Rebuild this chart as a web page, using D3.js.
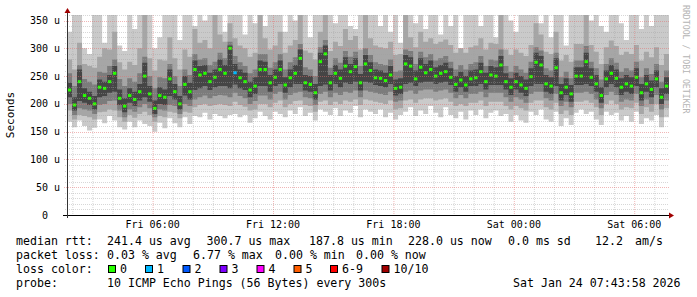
<!DOCTYPE html>
<html>
<head>
<meta charset="utf-8">
<script src="https://cdn.jsdelivr.net/npm/d3@7"></script>
<style>
body { margin: 0; background: #fff; }
text { font-family: "DejaVu Sans Mono", monospace; white-space: pre; }
</style>
</head>
<body>
<div id="chart"></div>
<script>
// 30 hour window, one sample every 15 minutes
const startTime = Date.UTC(2026, 0, 23, 1, 43, 58);
const endTime = Date.UTC(2026, 0, 24, 7, 43, 58);
const stepMinutes = 15;

// median rtt (us)
const median = [
  225,198,240,215,210,200,230,228,240,255,210,196,215,208,222,250,218,192,215,212,245,
  222,200,235,222,262,252,255,240,248,262,255,300,256,247,240,225,232,262,262,238,
  248,262,234,247,255,282,238,235,220,276,290,238,255,246,268,258,267,238,272,260,
  247,246,242,252,228,230,272,268,245,266,256,262,250,255,258,248,235,243,234,245,
  247,258,240,252,250,270,240,230,240,234,228,249,275,270,236,232,265,220,230,218,
  250,250,276,248,236,215,245,255,246,230,236,232,248,220,236,226,245,212,232
];
// lost pings per sample (out of 10)
const loss = [
  0,0,0,0,0,0,0,0,0,0,0,0,0,0,0,0,0,0,0,0,0,
  0,0,0,0,0,0,0,0,0,0,0,0,1,0,0,0,0,0,0,0,
  0,0,0,0,0,0,0,0,0,0,0,0,0,0,0,0,0,0,0,0,
  0,0,0,0,0,0,0,0,0,0,0,0,0,0,0,0,0,0,0,0,
  0,0,0,0,0,0,0,0,0,0,0,0,0,0,0,0,0,0,0,0,
  0,0,0,0,0,0,0,0,0,0,0,0,0,0,0,0,0,0,0
];
// smoke: sorted ping times, lowest (low1) to highest (high1)
const low1 = [
  168,158,170,160,152,157,172,165,178,170,158,154,168,158,170,164,160,150,166,156,174,
  165,158,176,164,178,176,184,172,182,178,174,180,182,176,180,166,174,186,178,172,
  186,182,176,188,182,194,178,184,170,190,186,180,192,178,188,184,196,176,190,186,
  182,190,176,184,172,180,186,194,178,188,182,196,184,176,194,180,174,186,172,188,
  180,190,174,184,188,178,182,168,180,170,166,186,180,190,172,168,186,160,174,162,
  184,190,182,186,172,162,186,180,184,170,178,168,186,164,174,170,180,158,176
];
const low2 = [
  188,172,180,178,176,172,185,186,190,188,176,168,180,175,182,186,180,168,178,176,186,
  184,174,186,184,194,198,200,196,198,200,198,196,204,198,195,188,190,200,200,194,
  202,206,194,200,205,206,198,196,186,204,206,198,204,200,206,204,208,198,208,206,
  204,202,200,206,190,192,206,208,202,208,210,210,206,208,210,204,196,200,196,202,
  202,206,196,204,204,204,196,190,196,192,188,202,206,206,194,190,202,182,188,180,
  204,204,206,202,194,180,200,206,200,190,194,192,202,182,194,186,200,176,192
];
const low3 = [
  200,180,192,190,188,182,198,200,205,206,188,176,190,186,194,200,192,176,190,188,198,
  196,182,200,196,208,212,215,210,214,216,215,212,220,214,210,200,205,215,215,208,
  218,222,208,216,220,222,212,210,198,218,222,212,220,216,222,220,224,212,224,222,
  220,218,216,222,204,206,222,224,218,224,226,226,222,224,226,220,210,216,210,218,
  218,222,212,220,220,220,212,204,212,208,202,218,222,222,210,206,218,196,204,194,
  220,220,222,218,208,192,216,222,216,204,208,206,218,196,208,200,216,190,206
];
const low4 = [
  212,188,205,202,198,190,212,214,220,222,198,185,202,196,206,212,204,182,200,198,214,
  208,190,215,208,225,228,232,225,230,232,232,228,235,228,225,212,218,232,232,222,
  232,236,220,230,236,236,224,222,208,232,235,224,236,230,238,236,240,224,240,238,
  234,232,230,236,215,218,236,238,232,238,240,240,236,238,240,234,222,230,222,232,
  232,236,226,234,234,234,226,216,226,220,214,232,236,236,222,218,232,206,216,204,
  234,234,236,232,222,202,230,236,230,216,222,218,232,206,222,212,230,200,218
];
const high4 = [
  238,212,262,228,222,214,244,240,252,268,226,210,228,222,236,274,232,206,230,226,262,
  236,214,250,238,278,268,270,256,262,280,270,305,272,262,256,240,248,278,276,252,
  262,278,248,262,270,298,252,250,236,292,305,252,270,262,284,272,282,254,288,275,
  262,260,256,268,244,246,288,284,260,282,272,278,266,270,274,264,250,258,250,260,
  262,274,256,268,266,286,255,246,256,250,244,264,292,286,252,248,282,236,246,234,
  266,266,292,264,252,230,260,270,262,246,252,248,264,236,252,242,260,228,248
];
const high3 = [
  255,232,270,245,240,235,258,256,268,280,245,232,246,240,255,285,250,228,248,246,272,
  250,232,262,252,290,280,282,270,276,292,282,312,286,275,268,255,262,290,290,265,
  275,290,262,275,284,308,266,262,250,302,315,265,282,274,295,285,294,268,300,288,
  275,272,270,280,258,260,298,295,272,294,284,290,278,282,286,276,262,270,262,272,
  275,286,268,280,278,298,268,258,268,262,256,276,302,296,264,260,292,248,258,246,
  278,278,304,276,264,244,272,282,274,258,264,260,276,248,264,254,272,240,260
];
const high2 = [
  280,262,310,272,268,265,285,300,298,330,275,262,276,270,300,380,282,260,280,278,320,
  282,262,298,285,335,310,315,300,380,325,312,345,318,305,300,285,292,380,318,298,
  305,330,292,305,315,380,296,292,280,330,360,295,312,304,335,315,322,298,380,318,
  305,302,300,312,288,290,380,320,302,330,312,318,308,312,316,306,292,300,292,302,
  305,318,298,310,308,380,298,288,298,292,286,306,345,325,294,290,330,278,288,276,
  308,308,380,306,294,272,302,314,304,288,294,290,306,278,294,284,302,270,290
];
const high1 = [
  330,380,380,300,290,380,380,310,380,380,305,295,380,335,380,380,380,300,320,380,380,
  380,315,380,380,340,380,350,380,380,380,330,380,380,380,325,380,345,380,340,380,
  380,380,330,380,350,380,380,320,380,380,380,380,345,380,380,340,335,380,380,380,
  380,340,380,330,380,310,380,380,345,380,335,380,380,325,380,340,380,300,380,380,
  380,340,380,380,320,380,380,350,330,380,380,380,380,345,380,320,380,380,305,380,
  380,380,380,350,380,340,330,380,380,345,315,380,380,335,380,340,380,380,380
];

const yTickValues = [0, 50, 100, 150, 200, 250, 300, 350];
const yTickLabels = ["0  ", "50 u", "100 u", "150 u", "200 u", "250 u", "300 u", "350 u"];

const lossLabels = ["0", "1", "2", "3", "4", "5", "6-9", "10/10"];
const lossColors = ["#26ff00", "#00b8ff", "#0059ff", "#7e00ff", "#ff00fe", "#ff5e00", "#ff0000", "#a10000"];

const rttLegend = ["median rtt:", "241.4 us avg", "300.7 us max", "187.8 us min", "228.0 us now", "0.0 ms sd", "12.2", "am/s"];
const lossLegend = ["packet loss:", "0.03 % avg", "6.77 % max", "0.00 % min", "0.00 % now"];
const probeLegend = ["probe:", "10 ICMP Echo Pings (56 Bytes) every 300s", "Sat Jan 24 07:43:58 2026"];

// ---- layout ----
const width = 697, height = 297;
const plot = { left: 67, right: 669, top: 15, bottom: 215 };
const smokeFills = ["#cacaca", "#a6a6a6", "#7c7c7c", "#454545"];
const legendFont = 11.6, axisFont = 10;

const svg = d3.select('#chart').append('svg')
  .attr('width', width)
  .attr('height', height);
svg.append('rect').attr('width', width).attr('height', height).attr('fill', '#fff');

const x = d3.scaleUtc().domain([startTime, endTime]).range([plot.left, plot.right]);
const y = d3.scaleLinear().domain([0, 360]).range([plot.bottom, plot.top]);

const rows = median.map((m, i) => ({
  t: startTime + i * stepMinutes * 60000,
  med: m, loss: loss[i],
  l1: low1[i], l2: low2[i], l3: low3[i], l4: low4[i],
  h4: high4[i], h3: high3[i], h2: high2[i], h1: high1[i]
}));
const stepRows = rows.concat([Object.assign({}, rows[rows.length - 1], { t: endTime })]);

svg.append('clipPath').attr('id', 'plotclip')
  .append('rect')
  .attr('x', plot.left).attr('y', plot.top)
  .attr('width', plot.right - plot.left).attr('height', plot.bottom - plot.top);

const g = svg.append('g').attr('clip-path', 'url(#plotclip)');

const bands = [['l1', 'h1'], ['l2', 'h2'], ['l3', 'h3'], ['l4', 'h4']];
bands.forEach(([lo, hi], k) => {
  const area = d3.area()
    .curve(d3.curveStepAfter)
    .x(d => x(d.t))
    .y0(d => y(d[lo]))
    .y1(d => y(d[hi]));
  g.append('path').datum(stepRows).attr('d', area).attr('fill', smokeFills[k]);
});

// median markers coloured by loss
const colW = x(startTime + stepMinutes * 60000) - x(startTime);
g.append('g').selectAll('rect').data(rows).enter()
  .append('rect')
  .attr('x', d => x(d.t) + (colW - 3.4) / 2)
  .attr('y', d => y(d.med) - 1.5)
  .attr('width', 3.4)
  .attr('height', 3)
  .attr('fill', d => lossColors[Math.min(d.loss, 7)]);

// grid (drawn over data, like rrdtool)
const grid = svg.append('g');
const minorStroke = 'rgba(160,160,160,0.42)';
const majorStroke = 'rgba(225,110,110,0.5)';
const hours = d3.utcHour.range(new Date(startTime), new Date(endTime));
hours.forEach(h => {
  const major = h.getUTCHours() % 6 === 0;
  grid.append('line')
    .attr('x1', x(h) + 0.5).attr('x2', x(h) + 0.5)
    .attr('y1', plot.top).attr('y2', plot.bottom + 2)
    .attr('stroke', major ? majorStroke : minorStroke)
    .attr('stroke-dasharray', '1,1');
});
d3.range(10, 361, 10).forEach(v => {
  const major = v % 50 === 0;
  grid.append('line')
    .attr('x1', plot.left - (major ? 3 : 2)).attr('x2', plot.right)
    .attr('y1', Math.round(y(v)) + 0.5).attr('y2', Math.round(y(v)) + 0.5)
    .attr('stroke', major ? majorStroke : minorStroke)
    .attr('stroke-dasharray', '1,1');
});

// axes
svg.append('line')
  .attr('x1', plot.left - 4).attr('x2', plot.right + 2)
  .attr('y1', plot.bottom + 0.5).attr('y2', plot.bottom + 0.5)
  .attr('stroke', '#000');
svg.append('line')
  .attr('x1', plot.left + 0.5).attr('x2', plot.left + 0.5)
  .attr('y1', plot.bottom + 3).attr('y2', plot.top - 2)
  .attr('stroke', '#333');
svg.append('path')
  .attr('d', `M${plot.right + 5},${plot.bottom + 0.5} l-5,-3 l0,6 z`)
  .attr('fill', '#a00000');
svg.append('path')
  .attr('d', `M${plot.left + 0.5},${plot.top - 7} l-3,5 l6,0 z`)
  .attr('fill', '#a00000');

// y tick labels
svg.append('g').selectAll('text').data(yTickValues).enter()
  .append('text')
  .attr('x', 60)
  .attr('y', d => y(d))
  .attr('dy', '0.36em')
  .attr('text-anchor', 'end')
  .attr('font-size', axisFont)
  .attr('fill', '#000')
  .text((d, i) => yTickLabels[i]);

// x tick labels
const majorTicks = d3.utcHour.every(6).range(new Date(startTime), new Date(endTime));
const fmt = d3.utcFormat('%a %H:%M');
svg.append('g').selectAll('text').data(majorTicks).enter()
  .append('text')
  .attr('x', d => x(d))
  .attr('y', 228)
  .attr('text-anchor', 'middle')
  .attr('font-size', axisFont)
  .text(d => fmt(d));

// vertical axis title
svg.append('text')
  .attr('transform', 'translate(14,115) rotate(-90)')
  .attr('text-anchor', 'middle')
  .attr('font-size', 11)
  .text('Seconds');

// watermark
svg.append('text')
  .attr('transform', 'translate(683,5) rotate(90)')
  .attr('font-size', 8.2)
  .attr('fill', '#b4b4b4')
  .text('RRDTOOL / TOBI OETIKER');

// legend
const rttX = [16, 107, 206.5, 309, 408, 508, 595, 635];
const lossX = [16, 107, 193, 275, 356];
const probeX = [16, 107, 513];
const legendRow = (items, xs, yy) => items.forEach((s, i) => {
  svg.append('text').attr('x', xs[i]).attr('y', yy)
    .attr('font-size', legendFont).text(s);
});
legendRow(rttLegend, rttX, 245);
legendRow(lossLegend, lossX, 259);
svg.append('text').attr('x', 16).attr('y', 273).attr('font-size', legendFont).text('loss color:');
const boxX = [108, 145, 182.5, 219.5, 256.5, 293.5, 330, 381.5];
lossLabels.forEach((lab, i) => {
  svg.append('rect')
    .attr('x', boxX[i] + 0.5).attr('y', 265.5)
    .attr('width', 7).attr('height', 7)
    .attr('fill', lossColors[i]).attr('stroke', '#000').attr('stroke-width', 1);
  svg.append('text').attr('x', boxX[i] + 12).attr('y', 273)
    .attr('font-size', legendFont).text(lab);
});
legendRow(probeLegend, probeX, 287);
</script>
</body>
</html>
